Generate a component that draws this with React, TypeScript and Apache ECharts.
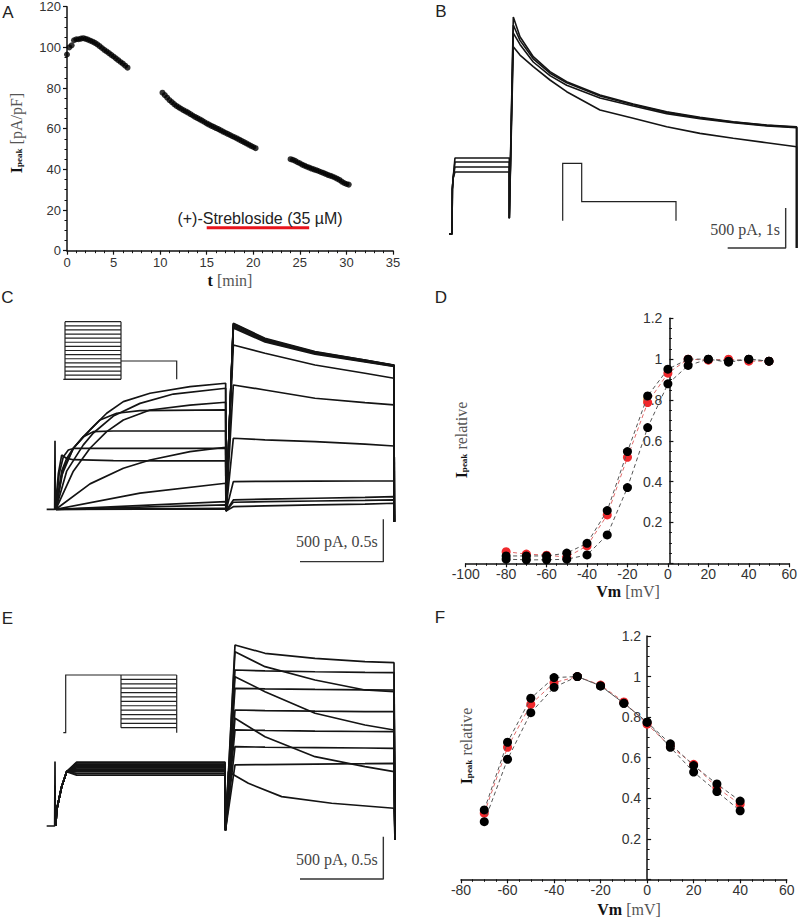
import React, { useEffect, useRef } from "react";
import * as echarts from "echarts";

const SERIF = "'Liberation Serif', 'DejaVu Serif', serif";
const SANS = "'Liberation Sans', Arial, sans-serif";

// ---------------- Panel A : Ipeak vs time ----------------
const A_SEG1 = [[0,96.5],[0.25,100],[0.5,101],[0.75,103.5],[1,104],[1.25,104],[1.5,104.3],[1.75,104.5],[2,104.2],[2.25,103.8],[2.5,103.3],[2.75,102.8],[3,102.2],[3.25,101.5],[3.5,100.6],[3.75,99.7],[4,98.8],[4.25,98],[4.5,97.2],[4.75,96.3],[5,95.5],[5.25,94.6],[5.5,93.7],[5.75,92.8],[6,92],[6.25,91],[6.5,90]];
const A_SEG2 = [[10.25,77.7],[10.5,76.5],[10.75,75.3],[11,74.1],[11.25,73.1],[11.5,72.1],[11.75,71.2],[12,70.5],[12.25,69.8],[12.5,69.1],[12.75,68.5],[13,67.9],[13.25,67.2],[13.5,66.5],[13.75,65.8],[14,65.2],[14.25,64.6],[14.5,64],[14.75,63.3],[15,62.6],[15.25,62],[15.5,61.4],[15.75,60.9],[16,60.3],[16.25,59.8],[16.5,59.2],[16.75,58.6],[17,58],[17.25,57.5],[17.5,56.9],[17.75,56.3],[18,55.8],[18.25,55.2],[18.5,54.6],[18.75,54],[19,53.4],[19.25,52.8],[19.5,52.2],[19.75,51.6],[20,51],[20.25,50.4]];
const A_SEG3 = [[24,45],[24.25,44.7],[24.5,44.2],[24.75,43.5],[25,43],[25.25,42.3],[25.5,41.8],[25.75,41.3],[26,40.9],[26.25,40.4],[26.5,40],[26.75,39.6],[27,39.2],[27.25,38.7],[27.5,38.3],[27.75,37.8],[28,37.3],[28.25,36.9],[28.5,36.5],[28.75,36],[29,35.4],[29.25,34.8],[29.5,34],[29.75,33.3],[30,32.8],[30.25,32.5]];
const A_DRUG_START = 15;
const A_DRUG_END = 26;
const A_DRUG_LEVEL = 11.3;
const A_DRUG_LABEL = "(+)-Strebloside (35 µM)";

// ---------------- Panel B : traces (ms, pA) ----------------
const B_PLATEAU = [950, 900, 838, 775];
const B_RISE = [[58, 560], [72, 700]];
const B_STEP_ON = 103;
const B_STEP_OFF = 1040;
const B_DIP = 196;
const B_T = [1109, 1224, 1453, 1741, 2029, 2603, 3177, 3753, 4327, 4901, 5477, 5994];
const B_TRACES = [
  [2712, 2466, 2216, 2029, 1904, 1737, 1625, 1529, 1458, 1404, 1362, 1341],
  [2612, 2420, 2190, 2010, 1890, 1725, 1615, 1520, 1450, 1398, 1358, 1335],
  [2512, 2370, 2150, 1980, 1860, 1700, 1600, 1505, 1440, 1390, 1350, 1330],
  [2341, 2237, 2091, 1925, 1779, 1550, 1446, 1341, 1258, 1196, 1141, 1091],
];
const B_END_DROP = -175;
const B_SCALE = { pA: 500, ms: 1000, label: "500 pA, 1s" };

// ---------------- Panel C : traces (ms, pA) ----------------
const C_SPIKE = 810;
const C_P1 = [
  [[55,0],[70,420],[90,640],[120,600],[160,585],[400,575],[700,572],[1074,573]],
  [[55,0],[75,420],[100,620],[130,700],[160,718],[1074,720]],
  [[55,0],[90,450],[120,600],[160,720],[220,857],[280,916],[400,924],[1074,924]],
  [[55,0],[100,480],[160,720],[220,857],[320,1054],[420,1133],[560,1165],[1074,1172]],
  [[55,0],[90,400],[160,720],[260,936],[360,1133],[460,1270],[620,1369],[860,1447],[1074,1487]],
  [[55,0],[120,450],[220,760],[280,900],[400,1100],[560,1250],[760,1360],[1074,1428]],
  [[55,0],[160,450],[260,720],[360,916],[460,1054],[620,1172],[860,1230],[1074,1263]],
  [[55,0],[260,300],[460,484],[620,582],[860,680],[1074,732]],
  [[55,0],[560,190],[1074,307]],
  [[55,0],[1074,90]],
  [[55,0],[1074,51]],
  [[55,0],[1074,12]],
  [[55,0],[1074,5]],
];
const C_P2_T = [1120, 1310, 1610, 1910, 2084];
const C_P2 = [
  [2195, 2018, 1860, 1762, 1703],
  [2180, 2005, 1850, 1755, 1700],
  [2165, 1995, 1845, 1750, 1695],
  [2150, 1985, 1840, 1745, 1690],
  [2190, 2010, 1855, 1760, 1700],
  [2140, 1975, 1830, 1740, 1685],
  [1939, 1841, 1703, 1605, 1546],
  [1467, 1408, 1310, 1258, 1231],
  [838, 820, 798, 770, 747],
  [326, 330, 332, 334, 334],
  [110, 120, 130, 140, 149],
  [83, 90, 98, 105, 110],
  [31, 40, 52, 62, 71],
];
const C_P2_DIP = -20;
const C_END_DROP = -146;
const C_SCALE = { pA: 500, ms: 500, label: "500 pA, 0.5s" };

// ---------------- Panel D : activation ----------------
const D_V = [-80, -70, -60, -50, -40, -30, -20, -10, 0, 10, 20, 30, 40, 50];
const D_BLACK1 = [0.036, 0.036, 0.036, 0.05, 0.098, 0.258, 0.547, 0.82, 0.951, 1.0, 1.0, 0.985, 1.0, 0.99];
const D_RED = [0.057, 0.045, 0.04, 0.03, 0.085, 0.237, 0.519, 0.787, 0.931, 1.0, 0.995, 1.0, 0.99, 0.99];
const D_BLACK2 = [0.02, 0.017, 0.017, 0.02, 0.041, 0.139, 0.371, 0.665, 0.879, 0.969, 1.0, 0.99, 1.0, 0.99];

// ---------------- Panel E : traces (ms, pA) ----------------
const E_SPIKE = 760;
const E_PLATEAU = [600, 620, 640, 655, 670, 685, 700, 715, 730, 745, 755];
const E_RISE = [[60, 189], [90, 464], [120, 641]];
const E_P2 = [
  [[1130,2136],[1310,2038],[1610,1979],[1910,1939],[2084,1927]],
  [[1130,2057],[1310,1880],[1610,1723],[1910,1605],[2084,1585]],
  [[1130,1841],[1310,1830],[1610,1820],[1910,1812],[2084,1809]],
  [[1130,1762],[1310,1585],[1610,1330],[1910,1192],[2084,1133]],
  [[1130,1625],[1310,1618],[1610,1612],[1910,1607],[2084,1605]],
  [[1130,1369],[1310,1362],[1610,1355],[1910,1350],[2084,1349]],
  [[1130,1271],[1310,1054],[1610,818],[1910,700],[2084,641]],
  [[1130,1133],[1310,1128],[1610,1120],[1910,1115],[2084,1113]],
  [[1130,936],[1310,930],[1610,925],[1910,920],[2084,917]],
  [[1130,720],[1310,725],[1610,730],[1910,735],[2084,740]],
  [[1090,641],[1210,504],[1410,346],[1710,268],[2084,209]],
];
const E_P2_DIP = -50;
const E_END_DROP = -165;
const E_SCALE = { pA: 500, ms: 500, label: "500 pA, 0.5s" };

// ---------------- Panel F : inactivation ----------------
const F_V = [-70, -60, -50, -40, -30, -20, -10, 0, 10, 20, 30, 40];
const F_BLACK1 = [0.342, 0.676, 0.893, 0.995, 1.0, 0.954, 0.868, 0.775, 0.668, 0.561, 0.470, 0.386];
const F_RED = [0.326, 0.651, 0.863, 0.970, 1.0, 0.958, 0.875, 0.765, 0.655, 0.567, 0.452, 0.370];
const F_BLACK2 = [0.284, 0.592, 0.822, 0.947, 1.0, 0.954, 0.868, 0.775, 0.651, 0.529, 0.433, 0.338];

// ---------------- helpers ----------------
const AX = "#111";
const axisBase = (fs: number, margin: number) => ({
  axisLine: { show: true, onZero: false, lineStyle: { color: AX, width: 1.5 } },
  axisTick: { show: true, length: 4, lineStyle: { color: AX, width: 1.2 } },
  minorTick: { show: true, length: 2.5, lineStyle: { color: AX, width: 1 } },
  axisLabel: { fontFamily: SANS, fontSize: fs, color: "#333", margin },
  splitLine: { show: false },
});
const hiddenAxis = (gridIndex: number, min: number, max: number) => ({
  type: "value", gridIndex, min, max, show: false, splitLine: { show: false },
});
const trace = (g: number, data: number[][], width = 1.4) => ({
  type: "line", xAxisIndex: g, yAxisIndex: g, data, symbol: "none", showSymbol: false,
  silent: true, lineStyle: { color: "#141414", width }, z: 3,
});
const scaleBar = (g: number, cornerT: number, cornerI: number, s: { pA: number; ms: number }) => ({
  type: "line", xAxisIndex: g, yAxisIndex: g, symbol: "none", silent: true,
  data: [[cornerT, cornerI + s.pA], [cornerT, cornerI], [cornerT - s.ms, cornerI]],
  lineStyle: { color: "#333", width: 1.4 }, z: 4,
});
const ivSeries = (g: number, v: number[], vals: number[], color: string, lineColor: string, z: number) => ({
  type: "line", xAxisIndex: g, yAxisIndex: g, data: v.map((x, i) => [x, vals[i]]),
  symbol: "circle", symbolSize: 9, showSymbol: true, silent: true, z,
  itemStyle: { color }, lineStyle: { color: lineColor, width: 1, type: [4, 3] },
});
const txt = (x: number, y: number, text: string, extra: any = {}) => ({
  type: "text", x, y, silent: true, z: 10,
  style: {
    text, fill: "#222", fontFamily: SANS, fontSize: 16,
    align: "center", verticalAlign: "middle", textAlign: "center", textVerticalAlign: "middle",
    ...extra,
  },
});
const RICH = {
  b: { fontFamily: SERIF, fontSize: 16, fontWeight: "bold", fill: "#111", color: "#111", lineHeight: 15 },
  s: { fontFamily: SERIF, fontSize: 9, fontWeight: "bold", fill: "#111", color: "#111", lineHeight: 9, verticalAlign: "bottom" },
  n: { fontFamily: SERIF, fontSize: 16, fill: "#555", color: "#555", lineHeight: 15 },
};
const richTxt = (x: number, y: number, text: string, rotate = false) => ({
  type: "text", x, y, rotation: rotate ? Math.PI / 2 : 0, silent: true, z: 10,
  style: {
    text, rich: RICH, align: "center", verticalAlign: "middle",
    textAlign: "center", textVerticalAlign: "middle",
  },
});
const pl = (points: number[][]) => ({
  type: "polyline", silent: true, z: 10,
  shape: { points }, style: { stroke: "#222", lineWidth: 1.2, fill: "none" },
});
const ln = (x1: number, y1: number, x2: number, y2: number) => ({
  type: "line", silent: true, z: 10,
  shape: { x1, y1, x2, y2 }, style: { stroke: "#222", lineWidth: 1.2 },
});

function buildOption() {
  const series: any[] = [];

  // A
  series.push({
    type: "scatter", xAxisIndex: 0, yAxisIndex: 0, symbolSize: 6, silent: true,
    itemStyle: { color: "#000" }, data: [...A_SEG1, ...A_SEG2, ...A_SEG3],
  });
  series.push({
    type: "line", xAxisIndex: 0, yAxisIndex: 0, symbol: "none", silent: true,
    data: [[A_DRUG_START, A_DRUG_LEVEL], [A_DRUG_END, A_DRUG_LEVEL]],
    lineStyle: { color: "#e8141c", width: 3 },
  });

  // B
  B_PLATEAU.forEach((p, i) => {
    const pts: number[][] = [[0, 0], [52, 0], ...B_RISE, [B_STEP_ON, p], [B_STEP_OFF, p], [B_STEP_OFF, B_DIP]];
    B_T.forEach((t, j) => pts.push([t, B_TRACES[i][j]]));
    pts.push([B_T[B_T.length - 1], B_END_DROP]);
    series.push(trace(1, pts, 1.6));
  });
  series.push(scaleBar(1, 5805, -175, B_SCALE));

  // C
  C_P1.forEach((p1, i) => {
    const pts: number[][] = i === 0 ? [[0, 0], [48, 0], [50, C_SPIKE], [52, 0]] : [];
    pts.push(...p1);
    pts.push([1076, C_P2_DIP]);
    C_P2_T.forEach((t, j) => pts.push([t, C_P2[i][j]]));
    pts.push([2086, C_END_DROP]);
    series.push(trace(2, pts, 1.7));
  });
  series.push(scaleBar(2, 2020, -618, C_SCALE));

  // D
  series.push(ivSeries(3, D_V, D_RED, "#f0282c", "#e06a6a", 3));
  series.push(ivSeries(3, D_V, D_BLACK2, "#000", "#555", 4));
  series.push(ivSeries(3, D_V, D_BLACK1, "#000", "#555", 5));

  // E
  E_PLATEAU.forEach((p, i) => {
    const pts: number[][] = i === 0 ? [[0, 0], [48, 0], [50, E_SPIKE], [52, 0]] : [];
    pts.push([55, 0], ...E_RISE, [180, p], [1070, p], [1073, E_P2_DIP]);
    pts.push(...E_P2[i]);
    pts.push([2090, E_END_DROP]);
    series.push(trace(4, pts, 1.7));
  });
  series.push(scaleBar(4, 2020, -626, E_SCALE));

  // F
  series.push(ivSeries(5, F_V, F_RED, "#f0282c", "#e06a6a", 3));
  series.push(ivSeries(5, F_V, F_BLACK2, "#000", "#555", 4));
  series.push(ivSeries(5, F_V, F_BLACK1, "#000", "#555", 5));

  const yFmt = (v: number) => (v === 0 ? "" : `${v}`);

  const graphic: any[] = [
    txt(8, 12.5, "A", { fontSize: 17 }),
    txt(441, 11.7, "B", { fontSize: 17 }),
    txt(7.5, 297, "C", { fontSize: 17 }),
    txt(441, 297.5, "D", { fontSize: 17 }),
    txt(7.5, 618, "E", { fontSize: 17 }),
    txt(440, 617.5, "F", { fontSize: 17 }),
    richTxt(16, 133, "{b|I}{s|peak}{n| [pA/pF]}", true),
    richTxt(230, 280, "{b|t}{n| [min]}"),
    txt(260, 218, A_DRUG_LABEL, { fontSize: 16, fill: "#222" }),
    richTxt(461, 440, "{b|I}{s|peak}{n| relative}", true),
    richTxt(628, 591, "{b|Vm}{n| [mV]}"),
    richTxt(466, 746, "{b|I}{s|peak}{n| relative}", true),
    richTxt(629, 909, "{b|Vm}{n| [mV]}"),
    txt(780, 229, B_SCALE.label, { fontFamily: SERIF, fontSize: 16, fill: "#444", align: "right", textAlign: "right" }),
    txt(377.7, 541.7, C_SCALE.label, { fontFamily: SERIF, fontSize: 16, fill: "#444", align: "right", textAlign: "right" }),
    txt(377.7, 859.3, E_SCALE.label, { fontFamily: SERIF, fontSize: 16, fill: "#444", align: "right", textAlign: "right" }),
    // B protocol
    pl([[562.7, 220.7], [562.7, 163.3], [581.7, 163.3], [581.7, 201.7], [676, 201.7], [676, 220.7]]),
    // C protocol
    ln(63.3, 379.3, 121, 379.3),
    ln(65, 321.7, 65, 379.3),
    ln(121, 321.7, 121, 379.3),
    pl([[121, 361], [176.7, 361], [176.7, 379.3]]),
    // E protocol
    pl([[63.3, 732.7], [65.7, 732.7], [65.7, 675], [121, 675]]),
    ln(121, 675, 121, 727.7),
    ln(176.7, 675, 176.7, 732.7),
  ];
  for (let i = 0; i < 15; i++) {
    const y = 321.7 + (i * (379.3 - 321.7)) / 14;
    graphic.push(ln(65, y, 121, y));
  }
  for (let i = 0; i < 13; i++) {
    const y = 675 + (i * (727.7 - 675)) / 12;
    graphic.push(ln(121, y, 176.7, y));
  }

  return {
    animation: false,
    backgroundColor: "#fff",
    grid: [
      { left: 67, top: 6.7, width: 326, height: 244 },
      { left: 440, top: 0, width: 360, height: 260 },
      { left: 40, top: 309.3, width: 360, height: 259.3 },
      { left: 465.7, top: 318.3, width: 326, height: 245 },
      { left: 40, top: 626, width: 360, height: 259.3 },
      { left: 461, top: 636, width: 325.7, height: 243.3 },
    ],
    xAxis: [
      { type: "value", gridIndex: 0, min: 0, max: 35, interval: 5, ...axisBase(13, 5), minorTick: { show: true, splitNumber: 5, length: 2.5, lineStyle: { color: AX } } },
      hiddenAxis(1, -155, 6052),
      hiddenAxis(2, -40, 2120),
      { type: "value", gridIndex: 3, min: -100, max: 60, interval: 20, ...axisBase(14, 4), minorTick: { show: true, splitNumber: 4, length: 2.5, lineStyle: { color: AX } } },
      hiddenAxis(4, -40, 2120),
      { type: "value", gridIndex: 5, min: -80, max: 60, interval: 20, ...axisBase(14, 4), minorTick: { show: true, splitNumber: 4, length: 2.5, lineStyle: { color: AX } } },
    ],
    yAxis: [
      { type: "value", gridIndex: 0, min: 0, max: 120, interval: 20, ...axisBase(13, 6), minorTick: { show: true, splitNumber: 4, length: 2.5, lineStyle: { color: AX } } },
      hiddenAxis(1, -325, 2925),
      hiddenAxis(2, -700, 2360),
      {
        type: "value", gridIndex: 3, min: 0, max: 1.2, interval: 0.2, ...axisBase(14, 7),
        position: "left", offset: -203.7,
        axisTick: { show: true, inside: true, length: 4, lineStyle: { color: AX, width: 1.2 } },
        minorTick: { show: true, splitNumber: 4, length: 2.5, lineStyle: { color: AX } },
        axisLabel: { fontFamily: SANS, fontSize: 14, color: "#333", margin: 7, formatter: yFmt },
      },
      hiddenAxis(4, -700, 2360),
      {
        type: "value", gridIndex: 5, min: 0, max: 1.2, interval: 0.2, ...axisBase(14, 6),
        position: "left", offset: -186.1,
        axisTick: { show: true, inside: true, length: 4, lineStyle: { color: AX, width: 1.2 } },
        minorTick: { show: true, splitNumber: 4, length: 2.5, lineStyle: { color: AX } },
        axisLabel: { fontFamily: SANS, fontSize: 14, color: "#333", margin: 6, formatter: yFmt },
      },
    ],
    series,
    graphic,
  };
}

export default function App() {
  const ref = useRef<HTMLDivElement>(null);
  useEffect(() => {
    if (!ref.current) return;
    const chart = echarts.init(ref.current, undefined, { renderer: "svg" });
    chart.setOption(buildOption() as any);
    return () => chart.dispose();
  }, []);
  return (
    <div
      ref={ref}
      style={{ position: "absolute", left: 0, top: 0, width: 800, height: 921, background: "#fff" }}
    />
  );
}
